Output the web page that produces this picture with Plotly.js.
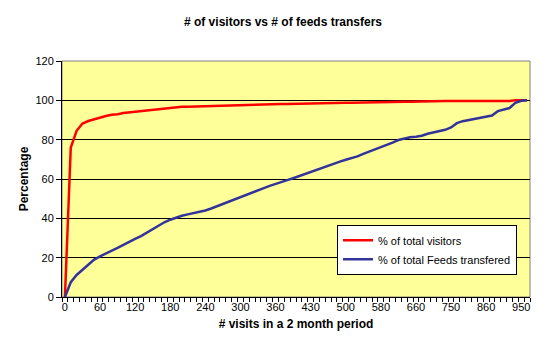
<!DOCTYPE html>
<html>
<head>
<meta charset="utf-8">
<script src="https://cdn.plot.ly/plotly-3.0.1.min.js"></script>
<style>html,body{margin:0;padding:0;background:#fff;}#chart{width:550px;height:351px;}</style>
</head>
<body>
<div id="chart"></div>
<script>
// Category labels: number of visits in a 2 month period
var visits = [0,10,20,30,40,50,60,70,80,90,100,110,120,130,140,150,160,170,180,190,200,210,220,230,240,250,260,270,280,290,300,310,320,330,340,350,360,
  370,380,390,405,415,430,440,450,465,475,490,500,510,525,540,550,565,580,590,605,620,635,645,660,
  675,690,700,715,730,750,770,790,805,820,840,860,875,890,905,920,935,950,970];

// % of total visitors (cumulative)
var pctVisitors = [0,76,84.5,88.2,89.5,90.4,91.2,92.0,92.7,92.9,93.6,93.9,94.3,94.8,94.9,95.3,95.6,95.8,96.1,96.6,
  96.7,96.8,96.9,97.0,97.1,97.2,97.3,97.3,97.4,97.5,97.6,97.6,97.7,97.8,97.9,97.9,98.0,98.1,98.1,98.2,
  98.3,98.3,98.4,98.5,98.5,98.6,98.7,98.7,98.8,98.8,98.9,98.9,99.0,99.0,99.1,99.1,99.2,99.2,99.3,99.3,
  99.4,99.5,99.5,99.5,99.5,99.6,99.6,99.6,99.6,99.6,99.7,99.7,99.7,99.7,99.7,99.7,99.7,100,100,100];

// % of total Feeds transfered (cumulative)
var pctFeeds = [0,7.5,11.2,13.8,16.5,19.0,20.7,22.0,23.5,25.0,26.5,27.8,29.5,31.0,32.7,34.5,36.4,38.0,39.3,40.5,
  41.3,42.0,42.6,43.3,44.0,45.0,46.2,47.3,48.6,49.8,51.0,52.0,53.1,54.3,55.4,56.5,57.6,58.5,59.4,60.4,
  61.5,62.5,63.6,64.5,65.6,66.6,67.8,68.8,69.8,70.5,71.5,72.8,73.9,74.9,75.9,77.1,78.5,79.8,80.5,81.2,
  81.5,82.0,83.0,83.7,84.2,85.0,86.2,88.4,89.4,90.0,90.5,91.1,91.8,92.3,94.5,95.5,96.1,98.7,99.8,100];

// Labelled categories on the x axis
var xTickLabels = [0,60,120,180,240,300,360,430,500,580,660,750,860,950];
var yTicks = [0,20,40,60,80,100,120];

var idx = visits.map(function(v,i){return i;});
var tickIdx = xTickLabels.map(function(v){return visits.indexOf(v);});

var font = 'Liberation Sans, Arial, sans-serif';

var traces = [
  {x: idx, y: pctVisitors, type:'scatter', mode:'lines', name:'% of total visitors',
   line:{color:'#FF0000', width:2.5}},
  {x: idx, y: pctFeeds, type:'scatter', mode:'lines', name:'% of total Feeds transfered',
   line:{color:'#333399', width:2.5}}
];

var layout = {
  width:550, height:351,
  margin:{l:61.5, r:20, t:60.5, b:53.5},
  paper_bgcolor:'#FFFFFF',
  plot_bgcolor:'#FFFF99',
  font:{family:font, size:11, color:'#000'},
  showlegend:true,
  title:{text:'# of visitors vs # of feeds transfers', font:{family:font, size:12, color:'#000', weight:'bold'},
         x:283/550, xanchor:'center', y:1-22/351, yanchor:'middle', xref:'container', yref:'container'},
  xaxis:{
    range:[-0.5, visits.length-0.5],
    tickmode:'array', tickvals:tickIdx, ticktext:xTickLabels.map(String),
    ticks:'', showgrid:false, zeroline:false,
    showline:true, linecolor:'#000', linewidth:1,
    minor:{tickmode:'linear', tick0:-0.5, dtick:1, ticks:'outside', ticklen:4, tickcolor:'#000', tickwidth:1, showgrid:false},
    tickfont:{family:font, size:11, color:'#000'},
    title:{text:'# visits in a 2 month period', font:{family:font, size:12, color:'#000', weight:'bold'}, standoff:7}
  },
  yaxis:{
    range:[0,120], tickmode:'array', tickvals:yTicks,
    ticks:'outside', ticklen:5, tickcolor:'#000',
    showgrid:true, gridcolor:'#000', gridwidth:1, zeroline:false,
    showline:true, linecolor:'#000', linewidth:1,
    tickfont:{family:font, size:11, color:'#000'},
    title:{text:'Percentage', font:{family:font, size:12, color:'#000', weight:'bold'}, standoff:4}
  },
  legend:{
    x:(517-61.5)/468.5, xanchor:'right', y:(297.5-225)/237, yanchor:'top',
    bgcolor:'#FFFFFF', bordercolor:'#000', borderwidth:1,
    font:{family:font, size:11, color:'#000'},
    itemwidth:30, tracegroupgap:0
  },
  shapes:[
    {type:'rect', xref:'paper', yref:'paper', x0:0, x1:1, y0:0, y1:1, line:{color:'#808080', width:1}, layer:'below'}
  ]
};

Plotly.newPlot('chart', traces, layout, {displayModeBar:false, staticPlot:true});
</script>
</body>
</html>
